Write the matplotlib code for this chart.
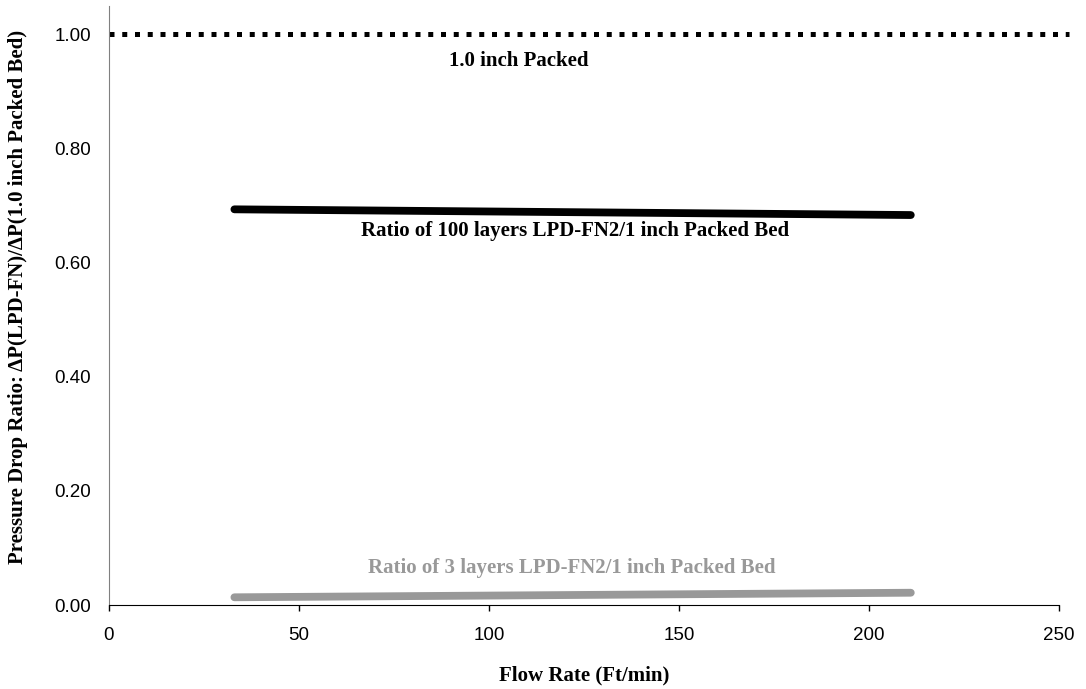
import matplotlib
matplotlib.use('Agg')
import matplotlib.pyplot as plt

# data
flow_rate = [33, 211]
ratio_100_layers = [0.693, 0.683]
ratio_3_layers = [0.0135, 0.0215]
packed_flow = [0, 252.5]
packed_ratio = [1.0, 1.0]

x_ticks = [0, 50, 100, 150, 200, 250]
y_ticks = [0.0, 0.2, 0.4, 0.6, 0.8, 1.0]

serif = ['Liberation Serif', 'DejaVu Serif']
sans = ['Liberation Sans', 'DejaVu Sans']
gray = '#999999'

fig = plt.figure(figsize=(10.86, 6.89), dpi=100)
ax = fig.add_axes([109 / 1086, 1 - 605 / 689, (1059 - 109) / 1086, 599.5 / 689])

ax.plot(packed_flow, packed_ratio, color='black', lw=3.6,
        linestyle=(0, (1, 1.55)), dash_capstyle='butt', clip_on=False)
ax.plot(flow_rate, ratio_100_layers, color='black', lw=5.6, solid_capstyle='round')
ax.plot(flow_rate, ratio_3_layers, color=gray, lw=5.6, solid_capstyle='round')

ax.text(107.7, 0.953, '1.0 inch Packed', ha='center', va='center',
        fontsize=15, fontweight='bold', family=serif)
ax.text(122.7, 0.655, 'Ratio of 100 layers LPD-FN2/1 inch Packed Bed', ha='center',
        va='center', fontsize=15, fontweight='bold', family=serif)
ax.text(121.8, 0.065, 'Ratio of 3 layers LPD-FN2/1 inch Packed Bed', ha='center',
        va='center', fontsize=15, fontweight='bold', family=serif, color=gray)

ax.set_xlim(0, 250)
ax.set_ylim(0, 1.05)
ax.set_xticks(x_ticks)
ax.set_yticks(y_ticks)
ax.set_xticklabels([str(v) for v in x_ticks], family=sans, fontsize=13.5)
ax.set_yticklabels([f'{v:.2f}' for v in y_ticks], family=sans, fontsize=13.5)
ax.tick_params(axis='x', direction='out', length=4, width=1, pad=12)
ax.tick_params(axis='y', length=0, pad=13)

for side in ('top', 'right'):
    ax.spines[side].set_visible(False)
ax.spines['left'].set_color('#808080')
ax.spines['bottom'].set_color('black')

ax.set_xlabel('Flow Rate (Ft/min)', family=serif, fontsize=15, fontweight='bold', labelpad=15)
ax.set_ylabel('Pressure Drop Ratio: \u0394P(LPD-FN)/\u0394P(1.0 inch Packed Bed)',
              family=serif, fontsize=15, fontweight='bold')
ax.yaxis.set_label_coords(-(109 - 28) / 950, (605 - 297) / 599.5)

fig.savefig('out.png', dpi=100)
plt.close(fig)
